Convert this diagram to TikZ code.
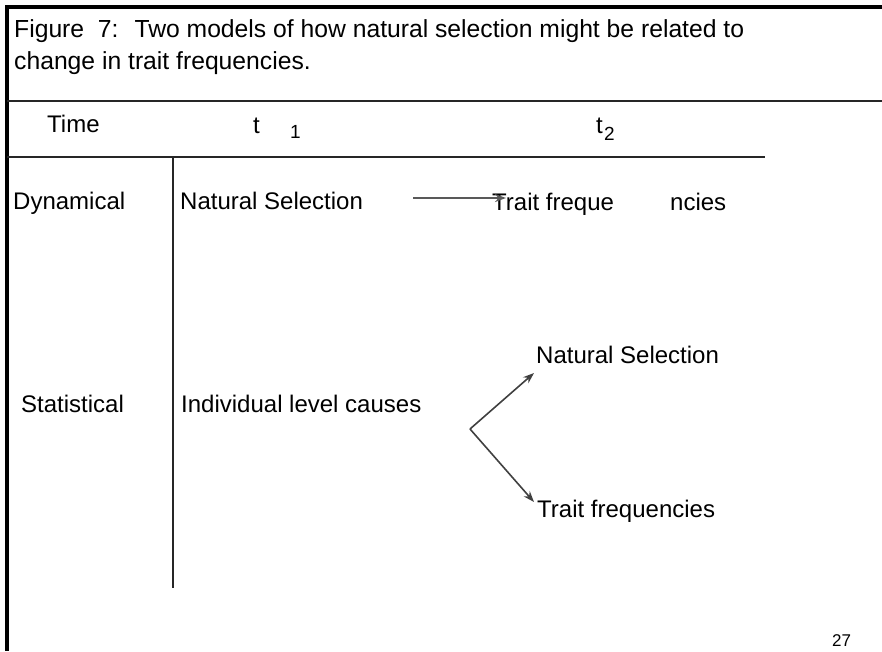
\documentclass[tikz,border=0pt]{standalone}
\usepackage{fontspec}
\setmainfont{Liberation Sans}
\usetikzlibrary{arrows.meta,calc}

\tikzset{
  lbl/.style={inner sep=0pt, anchor=base west, font=\fontsize{24}{28}\selectfont},
  titlelbl/.style={lbl, font=\fontsize{24.7}{30}\selectfont},
  sublbl/.style={inner sep=0pt, anchor=base west, font=\fontsize{19}{22}\selectfont},
  pagenum/.style={inner sep=0pt, anchor=base west, font=\fontsize{17}{20}\selectfont},
  frame/.style={line width=4pt, color=black},
  rule/.style={line width=1.2pt, color=black!85},
  arr/.style={line width=1.6pt, color=black!75, -{Stealth[length=11pt,width=8pt]}}
}

\begin{document}
\begin{tikzpicture}[x=1pt, y=-1pt]
			%%%%% START %%%%%
			\path[use as bounding box] (0,0) rectangle (882,651);
			
			% frame and title rule
			\draw[frame] (882,7) -- (7,7) -- (7,651);
			\draw[rule] (7,101) -- (882,101);
			
			% caption
			\node[titlelbl] (title1) at (14,37) {Figure~ 7:~ Two models of how natural selection might be related to};
			\node[titlelbl] (title2) at (14,69) {change in trait frequencies.};
			
			% table lines
			\draw[rule] (7,157) -- (765,157);
			\draw[rule] (173,157) -- (173,588);
			
			% header row
			\node[lbl] (time) at (47,132) {Time};
			\node[lbl] (tone) at (253,133) {t};
			\node[sublbl] (tonesub) at (290,138) {1};
			\node[lbl] (ttwo) at (596,133) {t};
			\node[sublbl] (ttwosub) at (604,140) {2};
			
			% dynamical row
			\node[lbl] (dyn) at (13,209) {Dynamical};
			\node[lbl] (dynsel) at (180,209) {Natural Selection};
			\node[lbl] (dynfreqa) at (492,210) {Trait freque};
			\node[lbl] (dynfreqb) at (670,210) {ncies};
			\coordinate (dynstart) at (413,198);
			\coordinate (dyntip) at (506,198);
			\draw[arr, line width=2.2pt, color=black!65] (dynstart) -- (dyntip);
			
			% statistical row
			\node[lbl] (stat) at (21,412) {Statistical};
			\node[lbl] (indiv) at (181,412) {Individual level causes};
			\node[lbl] (statsel) at (536,363) {Natural Selection};
			\node[lbl] (statfreq) at (537,517) {Trait frequencies};
			\coordinate (fork) at (470,429);
			\coordinate (uptip) at (534,373);
			\coordinate (downtip) at (534,502);
			\draw[arr] (fork) -- (uptip);
			\draw[arr] (fork) -- (downtip);
			
			% page number
			\node[pagenum] (page) at (832,646) {27};
			
			%%%%% END %%%%%
\end{tikzpicture}
\end{document}
